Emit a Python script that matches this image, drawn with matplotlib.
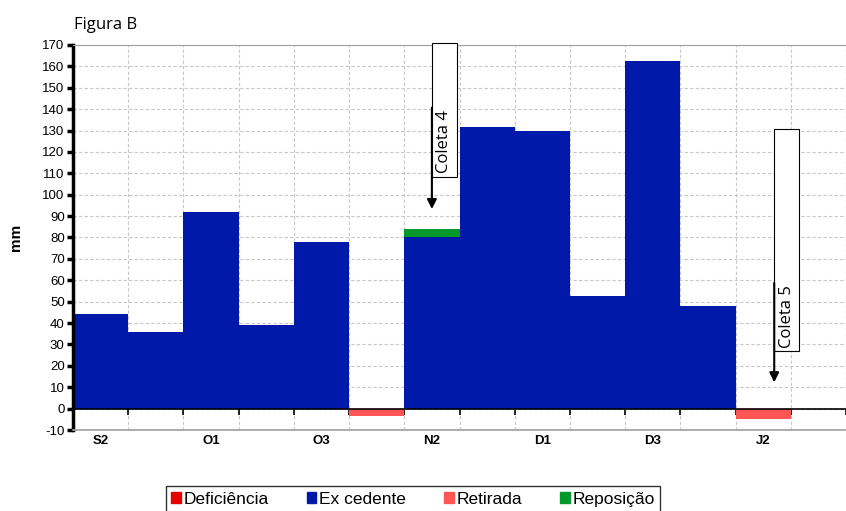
import matplotlib
matplotlib.use('Agg')
import matplotlib.pyplot as plt
from matplotlib.patches import Patch, Rectangle
import numpy as np

# Balanço hídrico decendial - Figura B
periodos = ['S2', 'S3', 'O1', 'O2', 'O3', 'N1', 'N2', 'N3', 'D1', 'D2', 'D3', 'J1', 'J2', 'J3']
rotulos = ['S2', '', 'O1', '', 'O3', '', 'N2', '', 'D1', '', 'D3', '', 'J2', '']
deficiencia = [0, 0, 0, 0, 0, 0, 0, 0, 0, 0, 0, 0, 0, 0]
excedente = [44, 36, 92, 39, 78, 0, 80, 131.5, 130, 52.5, 162.5, 48, 0, 0]
retirada = [0, 0, 0, 0, 0, -3.6, 0, 0, 0, 0, 0, 0, -4.8, 0]
reposicao = [0, 0, 0, 0, 0, 0, 4, 0, 0, 0, 0, 0, 0, 0]

# coletas: (texto, posição, topo da seta, ponta da seta, base da caixa, topo da caixa, largura)
coletas = [('Coleta 4', 6.0, 142, 92, 108.5, 171, 0.45),
           ('Coleta 5', 12.2, 60, 11, 27, 130.5, 0.45)]

cor_def = '#E60000'
cor_exc = '#0019A8'
cor_ret = '#FF5555'
cor_rep = '#00992A'

plt.rcParams['font.family'] = ['Liberation Sans', 'DejaVu Sans']
plt.rcParams['axes.unicode_minus'] = False

fig = plt.figure(figsize=(8.46, 5.11), dpi=100)
ax = fig.add_axes([0.0863, 0.1585, 0.9137, 0.7535])

x = np.arange(len(periodos))
ax.bar(x, deficiencia, width=1.0, color=cor_def, zorder=2)
ax.bar(x, excedente, width=1.0, color=cor_exc, zorder=2)
ax.bar(x, retirada, width=1.0, color=cor_ret, zorder=2)
ax.bar(x, reposicao, width=1.0, bottom=excedente, color=cor_rep, zorder=2)

ax.set_xlim(-0.5, 13.43)
ax.set_ylim(-10, 170)
ax.set_yticks(np.arange(-10, 171, 10))
ax.tick_params(axis='y', labelsize=9.5, width=2.5, length=4, pad=2)

# eixo das categorias cruzando em zero
ax.spines['bottom'].set_position(('data', 0))
ax.spines['bottom'].set_color('black')
ax.spines['bottom'].set_linewidth(1.2)
ax.spines['bottom'].set_zorder(3)
ax.set_xticks(x)
ax.set_xticklabels(rotulos, fontweight='bold', fontsize=9.5)
ax.set_xticks(np.arange(-0.5, len(periodos), 1.0), minor=True)
ax.tick_params(axis='x', which='major', length=0, pad=19)
ax.tick_params(axis='x', which='minor', length=4, width=1.2, direction='out')

ax.spines['left'].set_linewidth(2.5)
ax.spines['right'].set_visible(False)
ax.spines['top'].set_color('#A0A0A0')
ax.axhline(-10, color='#A0A0A0', lw=1.2, clip_on=False, zorder=3)

ax.grid(which='major', axis='y', ls=(0, (3, 2)), color='#C8C8C8', lw=0.8, zorder=0)
ax.grid(which='minor', axis='x', ls=(0, (3, 2)), color='#C8C8C8', lw=0.8, zorder=0)
ax.grid(which='major', axis='x', visible=False)

ax.set_ylabel('mm', fontweight='bold', fontsize=11, labelpad=14)

for texto, xc, y0, y1, cb, ct, larg in coletas:
    ax.add_patch(Rectangle((xc, cb), larg, ct - cb, facecolor='white',
                           edgecolor='black', lw=0.8, zorder=4, clip_on=False))
    ax.annotate('', xy=(xc, y1), xytext=(xc, y0),
                arrowprops=dict(arrowstyle='-|>', color='black', lw=1.5,
                                mutation_scale=14), zorder=5)
    ax.text(xc + larg / 2, cb + 1.5, texto, rotation=90, ha='center', va='bottom',
            fontsize=12, family=['Open Sans', 'DejaVu Sans'], zorder=6)

fig.text(0.088, 0.943, 'Figura B', fontsize=12, family=['Open Sans', 'DejaVu Sans'])

handles = [Patch(color=cor_def, label='Deficiência'),
           Patch(color=cor_exc, label='Ex cedente'),
           Patch(color=cor_ret, label='Retirada'),
           Patch(color=cor_rep, label='Reposição')]
leg = fig.legend(handles=handles, loc='upper center', bbox_to_anchor=(0.488, 0.048),
                 ncol=4, fontsize=12.5, frameon=True, fancybox=False,
                 handlelength=0.55, handleheight=0.55, handletextpad=0.15,
                 columnspacing=2.2, borderpad=0.3, borderaxespad=0)
leg.get_frame().set_edgecolor('black')
leg.get_frame().set_linewidth(1.0)

fig.savefig('out.png', dpi=100)
